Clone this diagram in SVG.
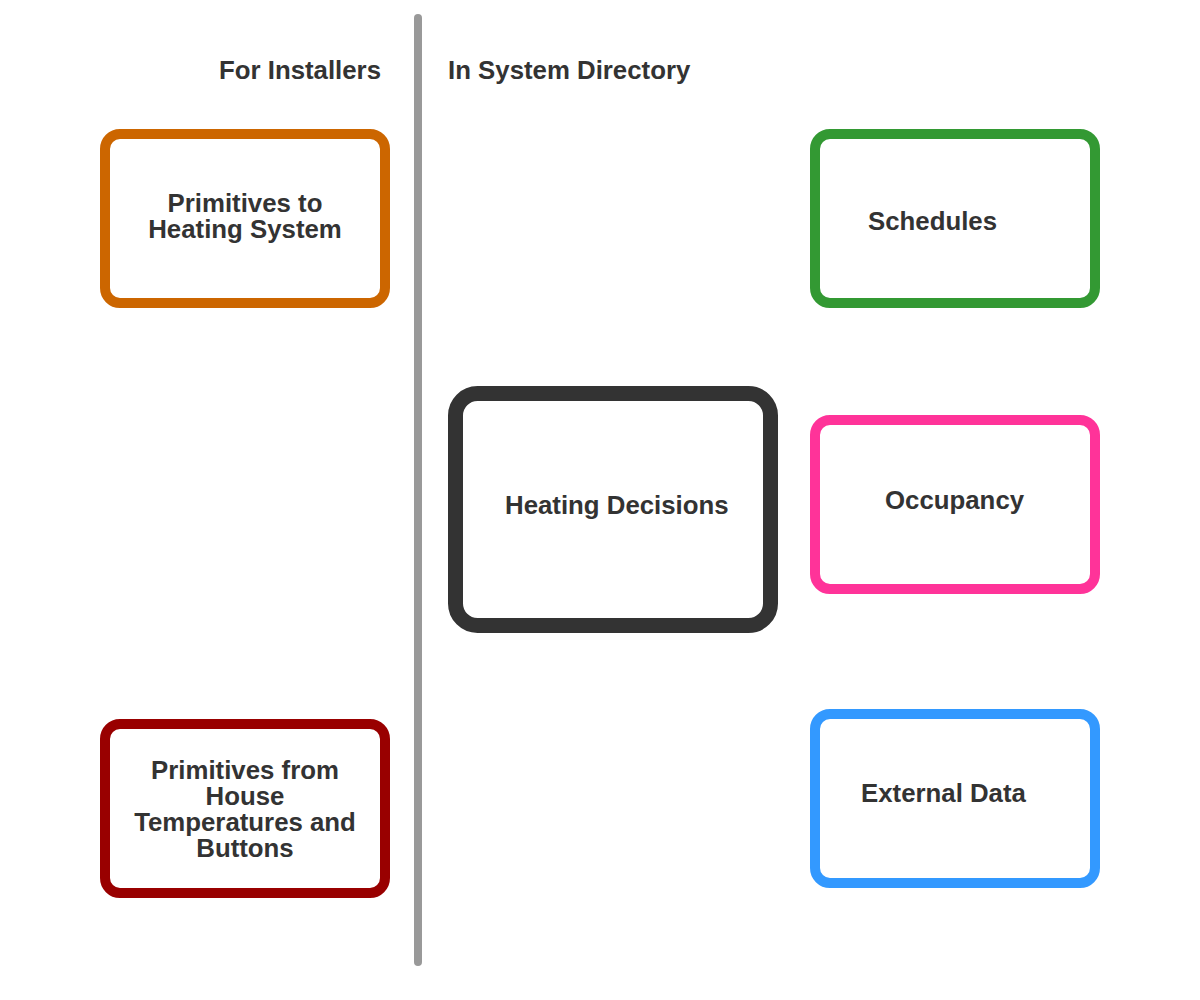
<svg xmlns="http://www.w3.org/2000/svg" width="1200" height="1000" viewBox="0 0 1200 1000">
<style>
  text { font-family: "Liberation Sans", Arial, Helvetica, sans-serif; font-weight: bold; font-size: 25.8px; fill: #333333; }
  .box { fill: #ffffff; stroke-width: 10; }
  .mid { text-anchor: middle; }
</style>
<rect x="0" y="0" width="1200" height="1000" fill="#ffffff"/>
<g id="divider">
  <line x1="418" y1="18" x2="418" y2="962" stroke="#999999" stroke-width="8" stroke-linecap="round"/>
</g>
<g id="titles">
  <text x="381" y="79" text-anchor="end">For Installers</text>
  <text x="448" y="79">In System Directory</text>
</g>
<g id="connectors"></g>
<g id="node-primitives-to">
  <rect class="box" x="105" y="134" width="280" height="169" rx="15" ry="15" stroke="#CC6600"/>
  <text class="mid" x="245" y="212">Primitives to</text>
  <text class="mid" x="245" y="238">Heating System</text>
</g>
<g id="node-primitives-from">
  <rect class="box" x="105" y="724" width="280" height="169" rx="15" ry="15" stroke="#990000"/>
  <text class="mid" x="245" y="779">Primitives from</text>
  <text class="mid" x="245" y="805">House</text>
  <text class="mid" x="245" y="831">Temperatures and</text>
  <text class="mid" x="245" y="857">Buttons</text>
</g>
<g id="node-heating-decisions">
  <rect x="455.5" y="393.5" width="315" height="232" rx="22" ry="22" fill="#ffffff" stroke="#333333" stroke-width="15"/>
  <text x="505" y="514">Heating Decisions</text>
</g>
<g id="node-schedules">
  <rect class="box" x="815" y="134" width="280" height="169" rx="15" ry="15" stroke="#339933"/>
  <text x="868" y="230">Schedules</text>
</g>
<g id="node-occupancy">
  <rect class="box" x="815" y="420" width="280" height="169" rx="15" ry="15" stroke="#FF3399"/>
  <text x="885" y="509">Occupancy</text>
</g>
<g id="node-external-data">
  <rect class="box" x="815" y="714" width="280" height="169" rx="15" ry="15" stroke="#3399FF"/>
  <text x="861" y="802">External Data</text>
</g>
</svg>
